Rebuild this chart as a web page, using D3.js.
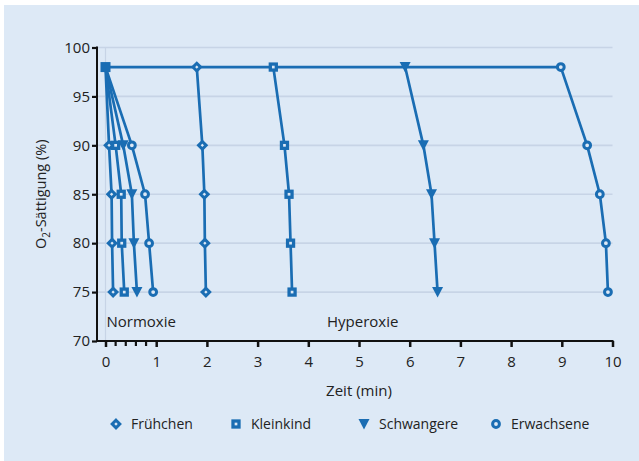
<!DOCTYPE html>
<html><head><meta charset="utf-8">
<script src="https://cdn.jsdelivr.net/npm/d3@7/dist/d3.min.js"></script>
<style>
html,body{margin:0;padding:0;background:#fff;}
text{font-family:"Open Sans","Noto Sans",sans-serif;}
</style></head>
<body>
<svg id="c" width="639" height="461"></svg>
<script>
const saturation = [98, 90, 85, 80, 75];
const seriesNames = ["Frühchen", "Kleinkind", "Schwangere", "Erwachsene"];
const seriesSymbols = ["diamond", "square", "triangle", "circle"];
// Normoxie: time (min) at each saturation level, start at 0/98
const normoxie = {
  "Frühchen":   [0, 0.07, 0.12, 0.13, 0.15],
  "Kleinkind":  [0, 0.20, 0.31, 0.32, 0.37],
  "Schwangere": [0, 0.35, 0.52, 0.56, 0.62],
  "Erwachsene": [0, 0.52, 0.78, 0.86, 0.94]
};
// Hyperoxie: time (min) at each saturation level
const hyperoxie = {
  "Frühchen":   [1.80, 1.91, 1.95, 1.96, 1.98],
  "Kleinkind":  [3.31, 3.53, 3.62, 3.65, 3.68],
  "Schwangere": [5.91, 6.27, 6.43, 6.49, 6.55],
  "Erwachsene": [8.98, 9.50, 9.75, 9.87, 9.91]
};
const xTicks = [0, 1, 2, 3, 4, 5, 6, 7, 8, 9, 10];
const xMinorTicks = [0.2, 0.4, 0.6, 0.8];
const yTicks = [70, 75, 80, 85, 90, 95, 100];
const regionLabels = [{text: "Normoxie", x: 0.0}, {text: "Hyperoxie", x: 4.35}];

const col = "#1a6db3";
const bg = "#dde9f6";
const svg = d3.select("#c");
svg.append("rect").attr("x", 4).attr("y", 5).attr("width", 635).attr("height", 456).attr("fill", bg);

const x = d3.scaleLinear().domain([0, 10]).range([105.5, 612.5]);
const y = d3.scaleLinear().domain([70, 100]).range([341, 47.5]);
const axisX0 = 97;

// grid
const g = svg.append("g");
g.selectAll("line.h").data(yTicks.filter(d => d > 70)).join("line")
  .attr("x1", axisX0).attr("x2", x(10)).attr("y1", d => y(d)).attr("y2", d => y(d))
  .attr("stroke", "#c7d4e6").attr("stroke-width", 1.6);
g.append("line").attr("x1", x(0)).attr("x2", x(0)).attr("y1", y(100)).attr("y2", y(70))
  .attr("stroke", "#c7d4e6").attr("stroke-width", 1.2);

// axes
const yAxis = d3.axisLeft(y).tickValues(yTicks).tickSize(5).tickPadding(2);
const ya = svg.append("g").attr("transform", `translate(${axisX0},0)`).call(yAxis);
ya.select(".domain").attr("stroke", "#111").attr("stroke-width", 2).attr("d", `M0,${y(100)-1}V${y(70)}`);
ya.selectAll(".tick line").attr("stroke", "#111").attr("stroke-width", 2.2);
ya.selectAll(".tick text").attr("font-size", 15).attr("fill", "#222").style("font-family", '"Open Sans",sans-serif');

const xAxis = d3.axisBottom(x).tickValues(xTicks).tickSize(6).tickPadding(9).tickFormat(d3.format("d"));
const xa = svg.append("g").attr("transform", `translate(0,${y(70)})`).call(xAxis);
xa.select(".domain").attr("stroke", "#111").attr("stroke-width", 2).attr("d", `M${axisX0-1},0H${x(10)+1}`);
xa.selectAll(".tick line").attr("stroke", "#111").attr("stroke-width", 2.5);
xa.selectAll(".tick text").attr("font-size", 15).attr("fill", "#222").style("font-family", '"Open Sans",sans-serif');
xa.selectAll("line.minor").data(xMinorTicks).join("line").attr("class", "minor")
  .attr("x1", d => x(d)).attr("x2", d => x(d)).attr("y1", 0).attr("y2", 5)
  .attr("stroke", "#111").attr("stroke-width", 2.2);

// axis titles
svg.append("text").attr("x", x(5)).attr("y", 396).attr("text-anchor", "middle")
  .attr("font-size", 15).attr("fill", "#222").text("Zeit (min)");
const yl = svg.append("text").attr("transform", `translate(46,${(y(70)+y(100))/2}) rotate(-90)`)
  .attr("text-anchor", "middle").attr("font-size", 14.5).attr("fill", "#222");
yl.append("tspan").text("O");
yl.append("tspan").attr("font-size", 10).attr("dy", 4).text("2");
yl.append("tspan").attr("dy", -4).text("-Sättigung (%)");

// region labels
regionLabels.forEach(r => {
  svg.append("text").attr("x", x(r.x) + 1).attr("y", 327).attr("font-size", 15).attr("fill", "#222").text(r.text);
});

// lines
const line = d3.line().x(d => x(d[0])).y(d => y(d[1]));
const lg = svg.append("g").attr("fill", "none").attr("stroke", col).attr("stroke-width", 2.7).attr("stroke-linejoin", "round");
// shared hyperoxie baseline at 98
const maxStart = d3.max(seriesNames, s => hyperoxie[s][0]);
lg.append("path").attr("d", line([[0, saturation[0]], [maxStart, saturation[0]]]));
seriesNames.forEach(s => {
  lg.append("path").attr("d", line(normoxie[s].map((t, i) => [t, saturation[i]])));
  lg.append("path").attr("d", line(hyperoxie[s].map((t, i) => [t, saturation[i]])));
});

function marker(sel, sym, cx, cy) {
  if (sym === "diamond") {
    sel.append("path").attr("d", `M${cx},${cy-3.8}L${cx+3.8},${cy}L${cx},${cy+3.8}L${cx-3.8},${cy}Z`)
      .attr("fill", bg).attr("stroke", col).attr("stroke-width", 3);
  } else if (sym === "square") {
    sel.append("rect").attr("x", cx-3).attr("y", cy-3).attr("width", 6).attr("height", 6)
      .attr("fill", bg).attr("stroke", col).attr("stroke-width", 3.3);
  } else if (sym === "triangle") {
    sel.append("path").attr("d", `M${cx-5.5},${cy-5}L${cx+5.5},${cy-5}L${cx},${cy+5.5}Z`).attr("fill", col);
  } else {
    sel.append("circle").attr("cx", cx).attr("cy", cy).attr("r", 3.4)
      .attr("fill", bg).attr("stroke", col).attr("stroke-width", 3);
  }
}
const mg = svg.append("g");
seriesNames.forEach((s, k) => {
  normoxie[s].forEach((t, i) => { if (i > 0) marker(mg, seriesSymbols[k], x(t), y(saturation[i])); });
  hyperoxie[s].forEach((t, i) => marker(mg, seriesSymbols[k], x(t), y(saturation[i])));
});
// shared start point
mg.append("rect").attr("x", x(0)-5).attr("y", y(98)-5).attr("width", 10).attr("height", 10).attr("fill", col);

// legend
const legX = [116, 236, 364, 496];
seriesNames.forEach((s, k) => {
  marker(svg, seriesSymbols[k], legX[k], 424);
  svg.append("text").attr("x", legX[k] + 15).attr("y", 429).attr("font-size", 14).attr("fill", "#222").text(s);
});
</script>
</body></html>
